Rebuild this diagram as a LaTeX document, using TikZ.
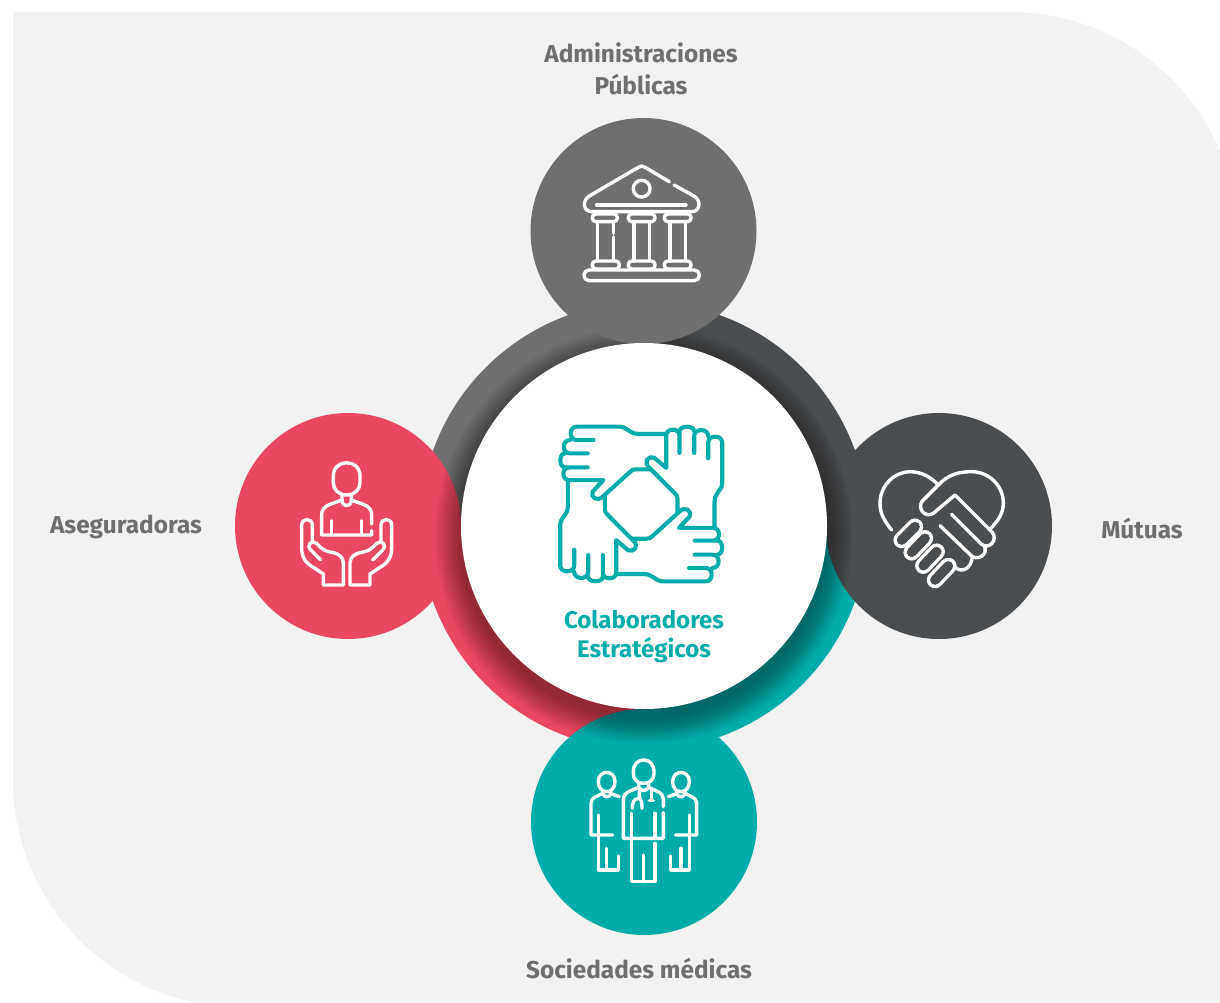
\documentclass[tikz,border=0pt]{standalone}
\usepackage{fontspec}
\setmainfont{Fira Sans}[BoldFont={Fira Sans Bold}]
\definecolor{bgc}{HTML}{F2F2F3}
\definecolor{grayc}{HTML}{6F6F6F}
\definecolor{darkc}{HTML}{4A4E51}
\definecolor{pinkc}{HTML}{EA4763}
\definecolor{tealc}{HTML}{00ACAA}
\tikzset{
 disc/.style={circle,inner sep=0pt,outer sep=0pt,minimum size=226pt},
 iconw/.style={draw=white,line width=3.4pt,line cap=round,line join=round},
 icont/.style={draw=tealc,line width=4.1pt,line cap=round,line join=round},
 lab/.style={font=\bfseries\fontsize{24.4}{24.4}\selectfont,text=grayc,align=center,inner sep=0pt},
 labt/.style={font=\bfseries\fontsize{24}{24}\selectfont,text=tealc,align=center,inner sep=0pt},
 zoomed/.style={x=.33333pt,y=-.33333pt}
}
\begin{document}
\begin{tikzpicture}[x=1pt,y=-1pt]
\useasboundingbox (0,0) rectangle (1220,1002);
\clip (0,0) rectangle (1220,1002);
% background panel
\fill[bgc] (13,12) -- (1010,12) .. controls (1136,12) and (1238,114) .. (1238,240)
  -- (1238,1007) -- (240,1007) .. controls (115,1007) and (13,905) .. (13,780) -- cycle;
% ring
\begin{scope}
 \clip (644,526) circle (224pt);
 \fill[grayc] (400,280) rectangle (644,526);
 \fill[darkc] (644,280) rectangle (890,526);
 \fill[tealc] (644,526) rectangle (890,770);
 \fill[pinkc] (400,526) rectangle (644,770);
\end{scope}
% side discs
\node[disc,fill=pinkc] (aseg) at (348,526) {};
\node[disc,fill=darkc] (mut) at (939,526) {};
\node[disc,fill=tealc] (soc) at (644,822) {};
% shadow of the centre disc
\foreach \r in {1,...,26}{
 \fill[black,opacity=.016] (644,535) circle ({183pt+\r*1pt});
}
\node[disc,fill=grayc] (adm) at (643.5,231) {};
\node[circle,inner sep=0pt,outer sep=0pt,minimum size=366pt,fill=white] (col) at (644,526) {};
% labels
\node[lab] (ladm) at (641,69) {Administraciones\\[7pt]Públicas};
\node[lab] (lase) at (126,527) {Aseguradoras};
\node[lab] (lmut) at (1142,529) {Mútuas};
\node[lab] (lsoc) at (639,969) {Sociedades médicas};
\node[labt] (lcol) at (644,637) {Colaboradores\\[5pt]Estratégicos};
% bank icon
\begin{scope}[shift={(530,120)},zoomed]
 \draw[iconw] (418,185) -- (345,142) .. controls (338,137) and (332,137) .. (325,142) -- (178,228)
   .. controls (155,242) and (160,275) .. (185,275) -- (485,275) .. controls (510,275) and (515,242) .. (492,228) -- (432,195);
 \draw[iconw] (200,255) -- (468,255);
 \draw[iconw] (335,206) circle (8.4pt);
 \foreach \xa/\xb in {187/262,295/375,403/483}{
  \draw[iconw,rounded corners=3.5pt] (\xa,282) -- (\xb,282) -- (\xb,305) -- (\xa,305) -- cycle;
 }
 \foreach \xa/\xb in {187/268,295/375,403/483}{
  \draw[iconw,rounded corners=3.5pt] (\xa,423) -- (\xb,423) -- (\xb,447) -- (\xa,447) -- cycle;
 }
 \draw[iconw] (250,305) -- (250,340) (250,351) -- (250,423);
 \draw[iconw] (203,305) -- (203,423);
 \draw[iconw] (312,305) -- (312,423) (358,305) -- (358,423);
 \draw[iconw] (420,305) -- (420,423) (466,305) -- (466,423);
 \draw[iconw,rounded corners=5pt] (162,450) -- (508,450) -- (508,482) -- (162,482) -- cycle;
\end{scope}
% four hands icon
\begin{scope}[shift={(641.2,504)},yscale=.955]
 \begin{scope}[zoomed]
 \foreach \a in {0,-90,-180,-270}{
  \draw[icont,rotate=\a,shift={(-303.5,-282)}]
   (375,62) -- (295,62) .. controls (285,62) and (280,60) .. (272,55) -- (252,42) .. controls (248,40) and (245,39) .. (240,39)
   -- (110,39) .. controls (86,39) and (86,81) .. (110,81) -- (160,81)
   (90,81) .. controls (65,81) and (65,123) .. (90,123) -- (143,123)
   (75,123) .. controls (56,123) and (56,167) .. (75,167) -- (143,167)
   (88,167) .. controls (64,167) and (64,207) .. (88,207) -- (190,207) -- (158,243)
   .. controls (150,260) and (172,278) .. (190,257) -- (270,181) .. controls (276,175) and (280,173) .. (288,173) -- (330,173);
 }
 \end{scope}
\end{scope}
% person in hands
\begin{scope}[shift={(280,450)},zoomed]
 \draw[iconw] (160,78) .. controls (160,25) and (240,25) .. (240,78) -- (240,98)
   .. controls (240,118) and (225,135) .. (200,135) .. controls (175,135) and (160,118) .. (160,98) -- cycle;
 \draw[iconw] (186,135) -- (186,152) .. controls (188,172) and (212,172) .. (214,152) -- (214,135);
 \draw[iconw] (186,150) -- (150,163) .. controls (132,170) and (125,180) .. (125,195) -- (125,255) -- (275,255) -- (275,242);
 \draw[iconw] (214,150) -- (250,163) .. controls (268,170) and (275,180) .. (275,195) -- (275,222);
 \draw[iconw] (155,212) -- (155,255) (245,212) -- (245,255);
 \draw[iconw] (130,405) -- (130,372) -- (100,352) .. controls (78,340) and (65,322) .. (65,295) -- (65,225)
   .. controls (65,203) and (97,203) .. (97,225) -- (97,272);
 \draw[iconw] (122,330) -- (92,300) .. controls (78,285) and (95,268) .. (110,280) -- (122,292)
   .. controls (130,300) and (140,304) .. (155,307) .. controls (178,311) and (190,322) .. (190,340) -- (190,405) -- (130,405);
 \draw[iconw] (270,405) -- (270,372) -- (300,352) .. controls (322,340) and (335,322) .. (335,295) -- (335,225)
   .. controls (335,203) and (303,203) .. (303,225) -- (303,272);
 \draw[iconw] (278,330) -- (308,300) .. controls (322,285) and (305,268) .. (290,280) -- (278,292)
   .. controls (270,300) and (260,304) .. (245,307) .. controls (222,311) and (210,322) .. (210,340) -- (210,405) -- (270,405);
\end{scope}
% heart handshake
\begin{scope}[shift={(865,455)},zoomed]
 \draw[iconw] (80,225) .. controls (60,200) and (45,178) .. (45,145) .. controls (45,90) and (90,50) .. (135,50)
   .. controls (170,50) and (198,68) .. (216,86);
 \draw[iconw] (372,225) .. controls (395,203) and (415,178) .. (415,145) .. controls (415,90) and (370,50) .. (320,50)
   .. controls (280,50) and (250,60) .. (224,86) -- (172,138) .. controls (155,160) and (180,190) .. (205,175)
   -- (270,120) -- (382,232) .. controls (400,255) and (372,285) .. (350,268) -- (260,178);
 \draw[iconw] (358,272) .. controls (370,300) and (340,315) .. (322,305) -- (225,212);
 \draw[iconw] (322,305) .. controls (320,340) and (290,355) .. (272,338);
 \foreach \xa/\ya/\xb/\yb in {150/215/110/255,180/250/140/292,215/290/175/332,250/333/210/375}{
  \draw[white,line width=16.5pt,line cap=round] (\xa,\ya) -- (\xb,\yb);
  \draw[darkc,line width=9.7pt,line cap=round] (\xa,\ya) -- (\xb,\yb);
 }
\end{scope}
% doctors
\begin{scope}[shift={(580,750)},zoomed]
 % centre
 \draw[iconw] (160,65) .. controls (160,18) and (222,18) .. (222,65) -- (222,72)
   .. controls (222,90) and (208,100) .. (191,100) .. controls (174,100) and (160,90) .. (160,72) -- cycle;
 \draw[iconw] (176,100) -- (176,110) .. controls (180,125) and (202,125) .. (206,110) -- (206,100);
 \draw[iconw] (176,112) -- (152,122) .. controls (136,128) and (130,138) .. (130,150) -- (130,265) -- (250,265) -- (250,188);
 \draw[iconw] (206,112) -- (228,122) .. controls (244,128) and (250,138) .. (250,150) -- (250,170);
 \draw[iconw] (155,190) -- (155,395) -- (225,395) -- (225,280) (225,190) -- (225,265);
 \draw[iconw] (190,315) -- (190,395);
 \draw[iconw] (178,120) -- (178,145) .. controls (160,145) and (157,160) .. (157,175);
 \draw[iconw] (178,145) .. controls (185,150) and (186,160) .. (186,175);
 \draw[iconw] (214,118) -- (214,150) (208,152) -- (220,152);
 % left
 \draw[iconw] (55,95) .. controls (55,58) and (105,58) .. (105,95) .. controls (105,112) and (95,125) .. (80,125)
   .. controls (65,125) and (55,112) .. (55,95) -- cycle;
 \draw[iconw] (68,125) -- (68,130) .. controls (72,144) and (90,144) .. (93,130) -- (93,125);
 \draw[iconw] (68,130) -- (48,140) .. controls (38,145) and (33,150) .. (33,160) -- (33,255) -- (98,255);
 \draw[iconw] (55,195) -- (55,360) -- (115,360) -- (115,318);
 \draw[iconw] (80,295) -- (80,360);
 \draw[iconw] (118,140) -- (96,132);
 % right
 \draw[iconw] (278,95) .. controls (278,58) and (328,58) .. (328,95) .. controls (328,112) and (318,125) .. (303,125)
   .. controls (288,125) and (278,112) .. (278,95) -- cycle;
 \draw[iconw] (290,125) -- (290,130) .. controls (293,144) and (311,144) .. (315,130) -- (315,125);
 \draw[iconw] (315,130) -- (335,140) .. controls (345,145) and (350,150) .. (350,160) -- (350,255) -- (287,255);
 \draw[iconw] (328,195) -- (328,360) -- (272,360) -- (272,318);
 \draw[iconw] (303,295) -- (303,360);
 \draw[iconw] (265,140) -- (287,132);
\end{scope}
\end{tikzpicture}
\end{document}
